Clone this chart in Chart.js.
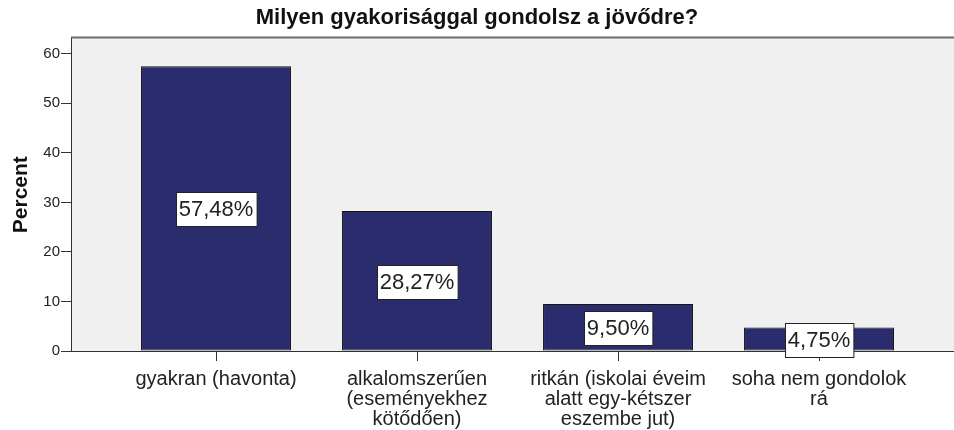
<!DOCTYPE html>
<html>
<head>
<meta charset="utf-8">
<script src="https://cdn.jsdelivr.net/npm/chart.js@4.4.1/dist/chart.umd.min.js"></script>
<style>
  html, body { margin: 0; padding: 0; background: #ffffff; }
  #wrap { width: 954px; height: 430px; position: relative; }
</style>
</head>
<body>
<div id="wrap"><canvas id="chart" width="954" height="430"></canvas></div>
<script>
// chart data
const categories = [
  ['gyakran (havonta)'],
  ['alkalomszerűen', '(eseményekhez', 'kötődően)'],
  ['ritkán (iskolai éveim', 'alatt egy-kétszer', 'eszembe jut)'],
  ['soha nem gondolok', 'rá']
];
const percentValues = [57.48, 28.27, 9.50, 4.75];
const valueLabels = ['57,48%', '28,27%', '9,50%', '4,75%'];
const yTicks = [0, 10, 20, 30, 40, 50, 60];

const FONT = 'Arial, "Liberation Sans", sans-serif';

// grey plot area with frame
const plotBackground = {
  id: 'plotBackground',
  beforeDraw(chart) {
    const { ctx, chartArea: a } = chart;
    ctx.save();
    ctx.fillStyle = '#f0f0f0';
    ctx.fillRect(a.left, a.top, a.right - a.left, a.bottom - a.top);
    ctx.strokeStyle = '#6a6a6a';
    ctx.lineWidth = 2;
    ctx.beginPath();
    ctx.moveTo(a.left, a.top - 1);
    ctx.lineTo(a.right, a.top - 1);
    ctx.stroke();
    ctx.restore();
  }
};

// boxed percentage labels in the middle of each bar
const boxLabels = {
  id: 'boxLabels',
  afterDatasetsDraw(chart) {
    const { ctx } = chart;
    const meta = chart.getDatasetMeta(0);
    ctx.save();
    ctx.font = '22px ' + FONT;
    ctx.textAlign = 'center';
    ctx.textBaseline = 'middle';
    meta.data.forEach((bar, i) => {
      const { x, y, base } = bar.getProps(['x', 'y', 'base'], true);
      const cy = (y + base) / 2 + 1;
      const w = ctx.measureText(valueLabels[i]).width + 6;
      const h = 34;
      const bx = Math.round(x - w / 2) + 0.5;
      const by = Math.round(cy - h / 2) + 0.5;
      ctx.fillStyle = '#ffffff';
      ctx.fillRect(bx, by, w, h);
      ctx.strokeStyle = '#222222';
      ctx.lineWidth = 1;
      ctx.strokeRect(bx, by, w, h);
      ctx.fillStyle = '#222222';
      ctx.fillText(valueLabels[i], x, cy + 1);
    });
    ctx.restore();
  }
};

new Chart(document.getElementById('chart'), {
  type: 'bar',
  data: {
    datasets: [{
      data: percentValues.map((v, i) => ({ x: i + 1, y: v })),
      backgroundColor: '#2a2c6e',
      borderColor: '#151515',
      borderWidth: 1,
      borderSkipped: false,
      barPercentage: 0.746,
      categoryPercentage: 1
    }]
  },
  options: {
    responsive: false,
    animation: false,
    layout: { padding: 0 },
    plugins: {
      legend: { display: false },
      tooltip: { enabled: false },
      title: {
        display: true,
        text: 'Milyen gyakorisággal gondolsz a jövődre?',
        color: '#111111',
        font: { family: FONT, size: 22, weight: 'bold' },
        padding: { top: 5, bottom: 7 }
      }
    },
    scales: {
      x: {
        type: 'linear',
        min: 0.2786,
        max: 4.6716,
        offset: false,
        afterBuildTicks(scale) {
          scale.ticks = categories.map((c, i) => ({ value: i + 1 }));
        },
        afterFit(scale) { scale.height = 79; },
        ticks: {
          autoSkip: false,
          maxRotation: 0,
          padding: 8,
          color: '#222222',
          font: { family: FONT, size: 20, lineHeight: 1 },
          callback: (value) => categories[value - 1] || ''
        },
        grid: { offset: false, drawOnChartArea: false, drawTicks: true, tickLength: 10, color: '#333333' },
        border: { display: true, color: '#333333', width: 1 }
      },
      y: {
        min: 0,
        max: 63.1,
        afterBuildTicks(scale) {
          scale.ticks = yTicks.map(v => ({ value: v }));
        },
        afterFit(scale) { scale.width = 71; },
        ticks: {
          padding: 1,
          color: '#222222',
          font: { family: FONT, size: 15 }
        },
        grid: { drawOnChartArea: false, drawTicks: true, tickLength: 10, color: '#333333' },
        border: { display: true, color: '#333333', width: 1 },
        title: {
          display: true,
          text: 'Percent',
          color: '#111111',
          font: { family: FONT, size: 21, weight: 'bold' },
          padding: { top: 9, bottom: 0 }
        }
      }
    }
  },
  plugins: [plotBackground, boxLabels]
});
</script>
</body>
</html>
